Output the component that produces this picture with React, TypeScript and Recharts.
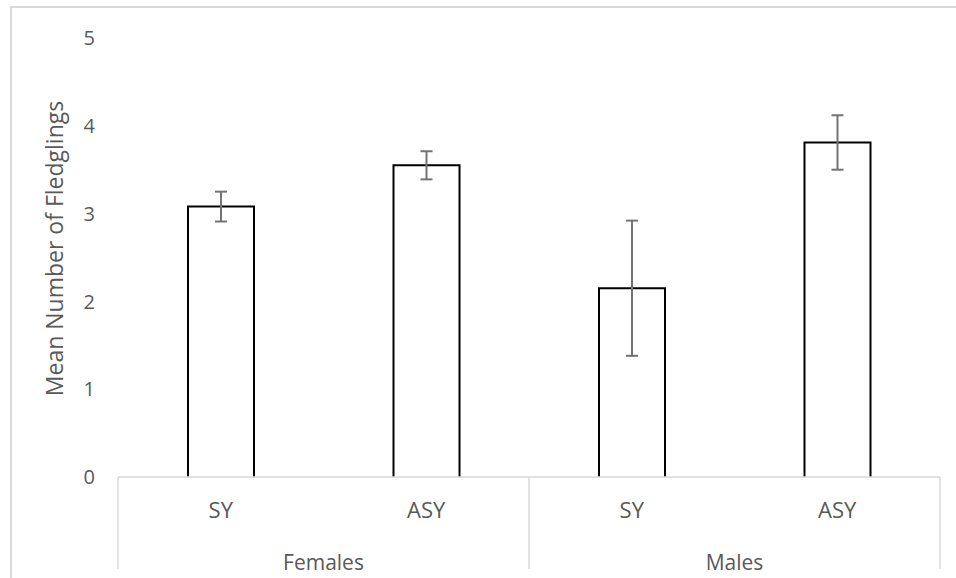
import { BarChart, Bar, XAxis, YAxis, ErrorBar } from "recharts"

// age classes within each sex, mean fledglings and standard error
const ageClasses = ["SY", "ASY", "SY", "ASY"]
const sexes = ["Females", "Females", "Males", "Males"]
const meanFledglings = [3.08, 3.55, 2.15, 3.81]
const stdError = [0.17, 0.16, 0.77, 0.31]
const yTicks = [0, 1, 2, 3, 4, 5]

const DATA = ageClasses.map((age, i) => ({
    age,
    sex: sexes[i],
    mean: meanFledglings[i],
    err: stdError[i],
}))

const FONT = "'Open Sans', 'DejaVu Sans', sans-serif"
const TEXT = "#595959"
const AXIS = "#d9d9d9"

// open-bottomed bar: the axis line closes it
const BarOutline = (props: any) => {
    const { x, y, width, height } = props
    return (
        <path
            d={`M${x},${y + height} L${x},${y} L${x + width},${y} L${x + width},${y + height}`}
            fill="#fff"
            stroke="#000"
            strokeWidth={2}
        />
    )
}

const CategoryTick = (props: any) => {
    const { x, y, payload, index } = props
    const half = payload.offset ?? 0
    const isFirst = index === 0 || sexes[index] !== sexes[index - 1]
    const isLast = index === sexes.length - 1
    let groupSize = 1
    while (index + groupSize < sexes.length && sexes[index + groupSize] === sexes[index]) groupSize++
    return (
        <g>
            <text x={x} y={y + 41} textAnchor="middle" fill={TEXT} fontSize={22} fontFamily={FONT}>
                {payload.value}
            </text>
            {isFirst && (
                <>
                    <line x1={x - half} y1={y} x2={x - half} y2={y + 92} stroke={AXIS} strokeWidth={1.5} />
                    <text x={x + (groupSize - 1) * half} y={y + 93} textAnchor="middle" fill={TEXT} fontSize={21} fontFamily={FONT}>
                        {sexes[index]}
                    </text>
                </>
            )}
            {isLast && <line x1={x + half} y1={y} x2={x + half} y2={y + 92} stroke={AXIS} strokeWidth={1.5} />}
        </g>
    )
}

const YTitle = (props: any) => {
    const { viewBox } = props
    const cx = viewBox.x + 54
    const cy = viewBox.y + viewBox.height / 2 - 9
    return (
        <text
            x={cx}
            y={cy}
            transform={`rotate(-90, ${cx}, ${cy})`}
            textAnchor="middle"
            fill={TEXT}
            fontSize={23}
            fontFamily={FONT}
            dominantBaseline="central"
        >
            Mean Number of Fledglings
        </text>
    )
}

export default function App() {
    return (
        <div style={{ position: "absolute", left: 0, top: 0, width: 956, height: 578, overflow: "hidden", background: "#fff" }}>
            <div style={{ position: "absolute", left: 10, top: 6, width: 980, height: 620, border: `2px solid ${AXIS}` }} />
            <div style={{ position: "absolute", left: 0, top: 0 }}>
                <BarChart width={956} height={578} data={DATA} margin={{ top: 38, right: 16, left: 0, bottom: 0 }}>
                    <XAxis
                        dataKey="age"
                        height={101}
                        interval={0}
                        tickLine={false}
                        tickSize={0}
                        tickMargin={0}
                        axisLine={{ stroke: AXIS, strokeWidth: 1.5 }}
                        tick={<CategoryTick />}
                    />
                    <YAxis
                        width={118}
                        domain={[0, 5]}
                        ticks={yTicks}
                        axisLine={false}
                        tickLine={false}
                        tickSize={0}
                        tickMargin={23}
                        tick={{ fill: TEXT, fontSize: 20, fontFamily: FONT }}
                        label={<YTitle />}
                    />
                    <Bar dataKey="mean" barSize={66} shape={<BarOutline />} isAnimationActive={false}>
                        <ErrorBar dataKey="err" width={6} stroke="#737373" strokeWidth={2} direction="y" />
                    </Bar>
                </BarChart>
            </div>
        </div>
    )
}
